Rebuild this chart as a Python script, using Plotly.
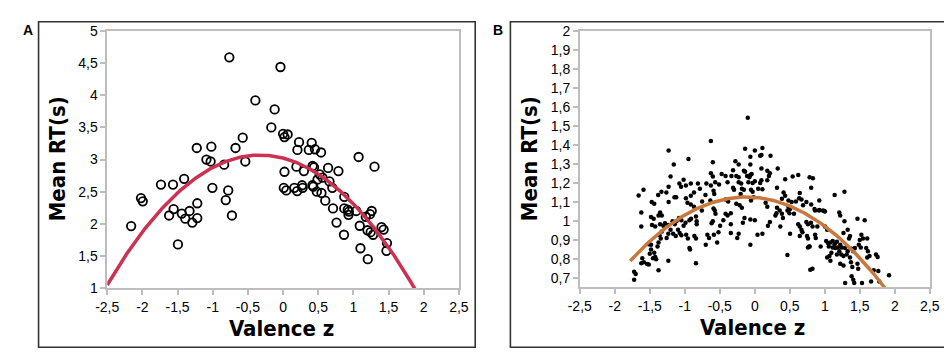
import plotly.graph_objects as go
import numpy as np

# ---------------- data ----------------
x_tick_vals = [-2.5, -2, -1.5, -1, -0.5, 0, 0.5, 1, 1.5, 2, 2.5]
x_tick_text = ["-2,5", "-2", "-1,5", "-1", "-0,5", "0", "0,5", "1", "1,5", "2", "2,5"]
yA_tick_vals = [1, 1.5, 2, 2.5, 3, 3.5, 4, 4.5, 5]
yA_tick_text = ["1", "1,5", "2", "2,5", "3", "3,5", "4", "4,5", "5"]
yB_tick_vals = [0.7, 0.8, 0.9, 1.0, 1.1, 1.2, 1.3, 1.4, 1.5, 1.6, 1.7, 1.8, 1.9, 2.0]
yB_tick_text = ["0,7", "0,8", "0,9", "1", "1,1", "1,2", "1,3", "1,4", "1,5", "1,6", "1,7", "1,8", "1,9", "2"]

# Panel A: mean RT per word (open circles)
A_x = [-2.16, -2.02, -1.995, -1.736, -1.62, -1.565, -1.556, -1.495, -1.44, -1.407,
       -1.39, -1.33, -1.29, -1.22, -1.22, -1.227, -1.09, -1.03, -1.02, -1.005,
       -0.838, -0.815, -0.78, -0.727, -0.764, -0.676, -0.574, -0.537, -0.394, -0.167,
       -0.12, -0.037, 0.0, 0.02, 0.065, 0.02, 0.01, 0.046, 0.16, 0.2,
       0.19, 0.204, 0.227, 0.278, 0.296, 0.27, 0.366, 0.407, 0.42, 0.44,
       0.417, 0.454, 0.54, 0.48, 0.49, 0.52, 0.546, 0.6, 0.64, 0.66,
       0.70, 0.71, 0.76, 0.787, 0.87, 0.866, 0.87, 0.92, 0.93, 0.935,
       1.04, 1.074, 1.09, 1.10, 1.176, 1.20, 1.204, 1.236, 1.26, 1.245,
       1.28, 1.30, 1.40, 1.43, 1.477, 1.47, 0.56, 0.43]
A_y = [1.965, 2.40, 2.35, 2.61, 2.13, 2.61, 2.23, 1.68, 2.16, 2.70,
       2.08, 2.20, 2.02, 2.32, 2.09, 3.18, 3.00, 2.97, 3.20, 2.56,
       2.92, 2.37, 2.52, 2.13, 4.59, 3.18, 3.34, 2.97, 3.92, 3.50,
       3.78, 4.44, 3.40, 3.35, 3.39, 2.81, 2.56, 2.52, 2.56, 2.51,
       2.89, 3.15, 3.27, 2.56, 2.82, 2.60, 3.15, 3.26, 2.90, 2.88,
       2.60, 3.16, 3.11, 2.50, 2.69, 2.77, 2.48, 2.36, 2.87, 2.66,
       2.56, 2.24, 2.02, 2.82, 2.42, 1.83, 2.24, 2.22, 2.14, 2.19,
       2.20, 3.04, 1.97, 1.62, 2.11, 1.90, 1.45, 2.15, 2.20, 1.87,
       1.83, 2.89, 1.95, 1.91, 1.70, 1.58, 2.72, 2.58]

# Panel B: mean RT per item (small dots), grouped by region of the plot
B_upper_left = [(-0.627, 1.420), (-1.231, 1.370), (-0.947, 1.325), (-1.157, 1.296), (-0.599, 1.308),
                (-0.627, 1.250), (-0.599, 1.233), (-1.203, 1.233), (-1.017, 1.216), (-1.077, 1.196),
                (-1.053, 1.179), (-0.984, 1.186), (-0.914, 1.196), (-0.812, 1.196), (-0.691, 1.196),
                (-0.627, 1.186), (-0.565, 1.203), (-1.231, 1.179), (-1.589, 1.163), (-1.659, 1.133),
                (-1.333, 1.153), (-1.380, 1.136), (-1.263, 1.149), (-0.868, 1.149), (-0.914, 1.132),
                (-0.784, 1.169), (-0.589, 1.158), (-0.579, 1.141), (-1.147, 1.124), (-1.123, 1.124),
                (-0.984, 1.119), (-0.705, 1.136), (-1.472, 1.099), (-1.436, 1.090), (-1.231, 1.099),
                (-0.961, 1.095), (-0.914, 1.085), (-0.868, 1.074), (-0.752, 1.102), (-0.635, 1.107),
                (-0.589, 1.065)]
B_upper_mid = [(-0.100, 1.543), (-0.138, 1.380), (0.001, 1.370), (0.109, 1.384), (0.095, 1.347),
               (0.077, 1.342), (-0.063, 1.337), (0.225, 1.342), (-0.277, 1.313), (-0.230, 1.296),
               (-0.063, 1.296), (-0.473, 1.246), (-0.417, 1.236), (-0.333, 1.236), (-0.310, 1.266),
               (-0.156, 1.263), (-0.138, 1.258), (-0.045, 1.246), (-0.063, 1.241), (0.095, 1.275),
               (0.179, 1.263), (0.216, 1.250), (0.328, 1.275), (-0.264, 1.236), (-0.230, 1.229),
               (-0.110, 1.236), (-0.077, 1.229), (-0.389, 1.203), (-0.230, 1.203), (-0.194, 1.196),
               (-0.091, 1.203), (-0.031, 1.199), (0.001, 1.208), (0.095, 1.213), (0.077, 1.199),
               (0.179, 1.213), (0.202, 1.236), (0.434, 1.219), (0.541, 1.233), (0.621, 1.241),
               (-0.510, 1.191), (-0.310, 1.174), (-0.296, 1.163), (-0.184, 1.169), (-0.156, 1.163),
               (-0.054, 1.163), (-0.031, 1.153), (0.049, 1.169), (0.109, 1.166), (-0.017, 1.124),
               (-0.202, 1.141), (0.318, 1.174), (0.412, 1.149), (0.434, 1.132), (0.388, 1.116),
               (0.481, 1.107), (0.527, 1.099), (0.588, 1.102), (0.643, 1.146), (0.634, 1.119),
               (0.667, 1.112), (0.783, 1.229), (0.737, 1.099), (0.690, 1.082), (-0.417, 1.112),
               (-0.380, 1.102), (-0.264, 1.090), (-0.216, 1.082), (-0.184, 1.069), (-0.054, 1.107),
               (0.155, 1.095), (0.179, 1.074), (0.318, 1.069), (0.481, 1.074), (0.504, 1.062)]
B_upper_right = [(0.830, 1.224), (0.806, 1.174), (1.141, 1.136), (1.281, 1.153), (0.922, 1.107),
                 (0.806, 1.085), (0.853, 1.062), (0.922, 1.057), (0.992, 1.052)]
B_lower_left = [(-1.621, 1.044), (-1.352, 1.044), (-1.482, 1.020), (-1.444, 1.010), (-1.375, 1.027),
                (-1.328, 1.027), (-1.621, 0.970), (-1.468, 0.977), (-1.422, 0.970), (-1.352, 0.982),
                (-1.305, 0.973), (-1.282, 0.987), (-1.235, 0.977), (-1.203, 0.953), (-1.175, 0.998),
                (-1.143, 0.982), (-1.119, 0.998), (-1.082, 1.015), (-1.049, 1.003), (-1.017, 0.973),
                (-0.989, 0.990), (-1.096, 0.953), (-1.073, 0.936), (-1.049, 0.923), (-1.166, 0.931),
                (-1.129, 0.919), (-1.235, 0.931), (-1.259, 0.909), (-1.328, 0.943), (-1.361, 0.923),
                (-1.343, 0.906), (-0.980, 0.926), (-0.956, 0.906), (-0.933, 1.003), (-0.910, 1.010),
                (-0.840, 1.023), (-0.830, 0.998), (-0.830, 0.982), (-0.863, 0.919), (-0.840, 0.906),
                (-0.756, 1.054), (-0.677, 0.926), (-0.654, 0.909), (-0.700, 0.873), (-0.617, 0.987),
                (-0.599, 0.998), (-0.571, 1.054), (-0.561, 1.037), (-0.537, 0.886), (-0.584, 0.926),
                (-1.514, 0.876), (-1.482, 0.873), (-1.375, 0.886), (-1.389, 0.864), (-1.482, 0.848),
                (-1.500, 0.826), (-1.436, 0.831), (-1.422, 0.809), (-1.454, 0.802), (-1.408, 0.797),
                (-1.607, 0.802), (-1.621, 0.776), (-1.584, 0.781), (-1.538, 0.772), (-1.514, 0.769),
                (-1.375, 0.739), (-1.235, 0.789), (-0.933, 0.856), (-0.924, 0.848), (-0.840, 0.776),
                (-1.723, 0.731), (-1.701, 0.719), (-1.723, 0.689)]
B_lower_mid = [(-0.417, 1.037), (-0.389, 1.027), (-0.449, 1.003), (-0.342, 1.040), (-0.495, 0.973),
               (-0.342, 0.982), (-0.519, 0.940), (-0.342, 0.936), (-0.230, 0.931), (-0.250, 0.909),
               (-0.147, 1.015), (-0.170, 0.990), (-0.063, 1.007), (0.001, 1.003), (0.039, 0.926),
               (0.109, 0.931), (-0.063, 0.873), (0.216, 0.993), (0.188, 0.973), (0.309, 1.040),
               (0.295, 1.027), (0.356, 1.054), (0.388, 1.037), (0.402, 1.015), (0.365, 0.970),
               (0.467, 1.054), (0.495, 1.040), (0.560, 1.037), (0.504, 0.931), (0.467, 0.819),
               (0.621, 0.982), (0.643, 0.970), (0.667, 0.953), (0.681, 0.940), (0.643, 0.919),
               (0.737, 0.993), (0.760, 0.982), (0.746, 0.919), (0.760, 0.906), (0.760, 0.859),
               (0.783, 0.864), (0.793, 0.742)]
B_lower_right = [(0.862, 1.054), (0.918, 1.054), (0.974, 1.054), (1.002, 1.049), (1.207, 1.044),
                 (1.221, 1.027), (1.467, 1.010), (1.570, 1.003), (0.802, 0.990), (0.825, 0.970),
                 (0.894, 0.970), (1.002, 0.970), (1.034, 0.953), (1.281, 0.998), (1.267, 0.936),
                 (1.327, 0.953), (1.360, 0.919), (1.346, 0.906), (1.523, 0.926), (1.546, 0.906),
                 (1.500, 0.898), (1.606, 0.906), (0.871, 0.909), (0.862, 0.926), (0.779, 0.864),
                 (0.941, 0.864), (1.020, 0.893), (1.048, 0.881), (1.081, 0.886), (1.113, 0.893),
                 (1.141, 0.876), (1.173, 0.889), (1.057, 0.864), (1.113, 0.859), (1.151, 0.856),
                 (1.187, 0.859), (1.221, 0.873), (1.244, 0.859), (1.207, 0.839), (1.173, 0.822),
                 (1.095, 0.831), (1.067, 0.814), (1.034, 0.806), (1.235, 0.822), (1.267, 0.814),
                 (1.313, 0.822), (1.327, 0.839), (1.360, 0.806), (1.291, 0.856), (1.383, 0.853),
                 (1.407, 0.839), (1.430, 0.856), (1.486, 0.873), (1.514, 0.859), (1.592, 0.856),
                 (1.616, 0.839), (1.606, 0.806), (1.639, 0.814), (1.732, 0.822), (1.755, 0.809),
                 (1.374, 0.781), (1.393, 0.756), (1.467, 0.773), (1.477, 0.747), (1.081, 0.789),
                 (1.221, 0.773), (1.267, 0.764), (0.825, 0.747), (1.699, 0.739), (1.765, 0.735),
                 (1.918, 0.713), (1.383, 0.708), (1.407, 0.689), (1.291, 0.672), (1.421, 0.672),
                 (1.532, 0.672), (1.662, 0.680), (1.779, 0.680)]

# Quadratic fits: y = a*x^2 + b*x + c, drawn over [x_start, x_end]
fitA_coef = (-0.429, -0.283, 3.023)
fitA_span = (-2.5, 1.9)
fitB_coef = (-0.1223, -0.0294, 1.1232)
fitB_span = (-1.78, 1.86)

# ---------------- figure ----------------
W, H = 952, 354
B_points = B_upper_left + B_upper_mid + B_upper_right + B_lower_left + B_lower_mid + B_lower_right
B_x = [p[0] for p in B_points]
B_y = [p[1] for p in B_points]


def fit_curve(coef, span):
    xs = np.linspace(span[0], span[1], 200)
    return xs, np.polyval(coef, xs)


fig = go.Figure()
fig.add_trace(go.Scatter(x=A_x, y=A_y, mode="markers", xaxis="x", yaxis="y",
                         marker=dict(symbol="circle-open", size=8.5, color="black",
                                     line=dict(width=1.8, color="black")),
                         cliponaxis=False, showlegend=False))
fxa, fya = fit_curve(fitA_coef, fitA_span)
fig.add_trace(go.Scatter(x=fxa, y=fya, mode="lines", xaxis="x", yaxis="y",
                         line=dict(color="#cc3152", width=3.5), showlegend=False))

fig.add_trace(go.Scatter(x=B_x, y=B_y, mode="markers", xaxis="x2", yaxis="y2",
                         marker=dict(symbol="circle", size=4.5, color="black"),
                         cliponaxis=False, showlegend=False))
fxb, fyb = fit_curve(fitB_coef, fitB_span)
fig.add_trace(go.Scatter(x=fxb, y=fyb, mode="lines", xaxis="x2", yaxis="y2",
                         line=dict(color="#c8783a", width=3.5), showlegend=False))

axis_common = dict(showline=True, linecolor="#bdbdbd", linewidth=1.5, mirror=True,
                   ticks="outside", ticklen=5, tickwidth=1.5, tickcolor="#bdbdbd",
                   showgrid=False, zeroline=False,
                   tickfont=dict(family="Liberation Sans, Arial, sans-serif", size=14, color="black"))

fig.update_layout(
    width=W, height=H,
    margin=dict(l=0, r=0, t=0, b=0),
    paper_bgcolor="white", plot_bgcolor="white",
    xaxis=dict(domain=[89.3 / W, 449.3 / W], range=[-2.5, 2.5], anchor="y",
               tickvals=x_tick_vals, ticktext=x_tick_text, **axis_common),
    yaxis=dict(domain=[1 - 285 / H, 1 - 15.7 / H], range=[1, 5], anchor="x",
               tickvals=yA_tick_vals, ticktext=yA_tick_text, **axis_common),
    xaxis2=dict(domain=[573 / W, 931.3 / W], range=[-2.5, 2.5], anchor="y2",
                tickvals=x_tick_vals, ticktext=x_tick_text, **axis_common),
    yaxis2=dict(domain=[1 - 284 / H, 1 - 15.7 / H], range=[0.65, 2], anchor="x2",
                tickvals=yB_tick_vals, ticktext=yB_tick_text, **axis_common),
)

# panel frames
for x0, x1 in [(19, 466), (502, 947)]:
    fig.add_shape(type="rect", xref="paper", yref="paper",
                  x0=x0 / W, x1=x1 / W, y0=1 - 347 / H, y1=1 - 6 / H,
                  line=dict(color="#333333", width=1.6), fillcolor="rgba(0,0,0,0)", layer="below")

title_font = dict(family="DejaVu Sans Condensed, Liberation Sans Narrow, sans-serif",
                  size=22, color="black", weight="bold")
ann = []
# panel letters
ann.append(dict(x=8 / W, y=1 - 15 / H, text="<b>A</b>", showarrow=False, xref="paper", yref="paper",
                xanchor="center", yanchor="middle",
                font=dict(family="Liberation Sans, Arial", size=14, color="black")))
ann.append(dict(x=489 / W, y=1 - 15 / H, text="<b>B</b>", showarrow=False, xref="paper", yref="paper",
                xanchor="center", yanchor="middle",
                font=dict(family="Liberation Sans, Arial", size=14, color="black")))
# axis titles
for cx, cy in [(38, 150), (521, 149)]:
    ann.append(dict(x=cx / W, y=1 - cy / H, text="Mean RT(s)", textangle=-90, showarrow=False,
                    xref="paper", yref="paper", xanchor="center", yanchor="middle", font=title_font))
for cx, cy in [(268, 327), (750, 326)]:
    ann.append(dict(x=cx / W, y=1 - cy / H, text="Valence z", showarrow=False,
                    xref="paper", yref="paper", xanchor="center", yanchor="middle", font=title_font))
fig.update_layout(annotations=ann)

fig.write_html("out.html")
